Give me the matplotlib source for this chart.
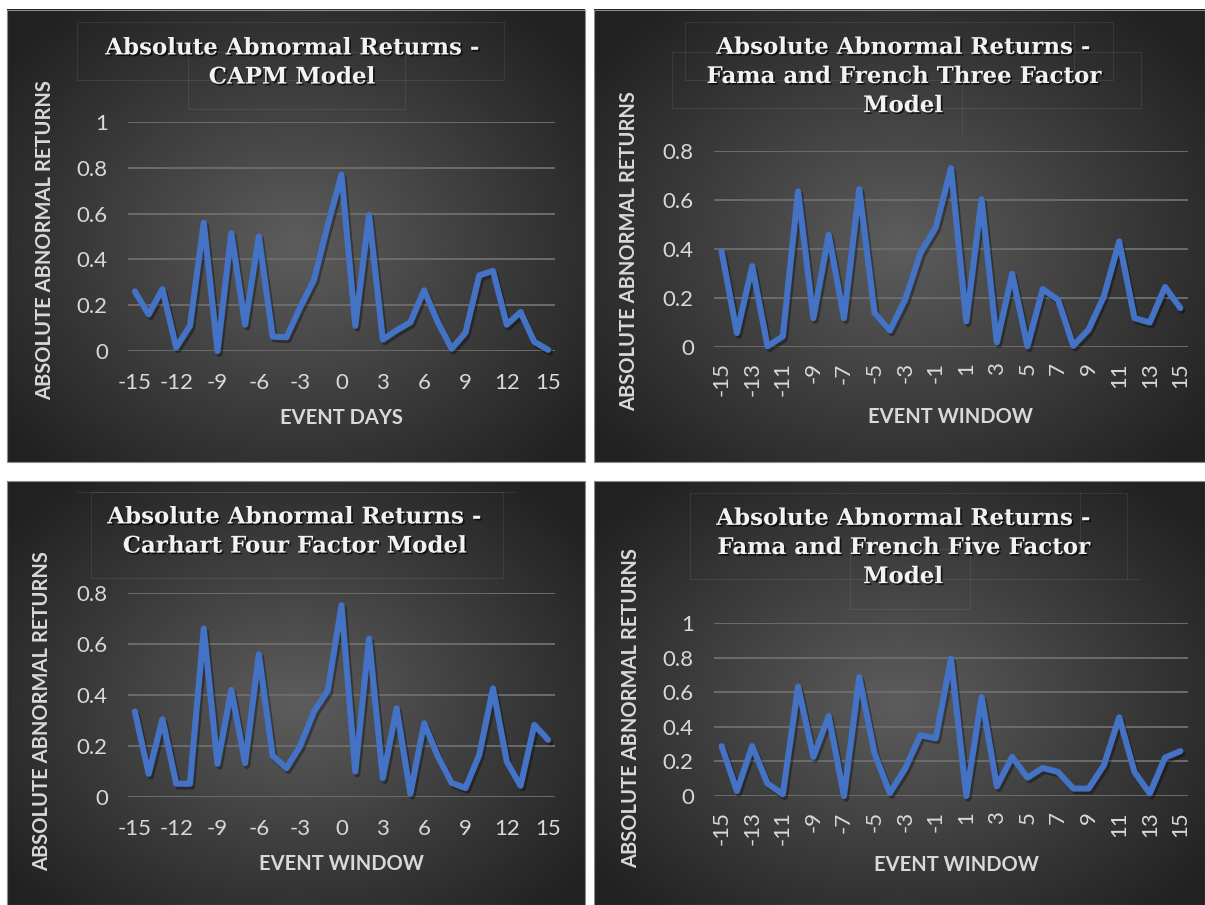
import numpy as np
import matplotlib
matplotlib.use("Agg")
import matplotlib.pyplot as plt
import matplotlib.patheffects as pe
from matplotlib.patches import Rectangle

# ---- data -----------------------------------------------------------------
event_days = list(range(-15, 16))

capm = [0.26, 0.16, 0.27, 0.015, 0.11, 0.56, 0.0, 0.515, 0.115, 0.50, 0.063,
        0.06, 0.19, 0.31, 0.55, 0.77, 0.11, 0.595, 0.05, 0.09, 0.125, 0.265,
        0.125, 0.01, 0.08, 0.33, 0.35, 0.115, 0.17, 0.04, 0.005]

ff3 = [0.39, 0.057, 0.33, 0.003, 0.043, 0.635, 0.118, 0.458, 0.118, 0.644,
       0.139, 0.067, 0.193, 0.383, 0.488, 0.73, 0.105, 0.603, 0.019, 0.299,
       0.003, 0.236, 0.193, 0.005, 0.071, 0.207, 0.431, 0.118, 0.1, 0.245,
       0.159]

carhart = [0.335, 0.091, 0.305, 0.052, 0.052, 0.66, 0.13, 0.42, 0.133, 0.559,
           0.162, 0.113, 0.2, 0.335, 0.417, 0.752, 0.1, 0.621, 0.074, 0.348,
           0.013, 0.289, 0.159, 0.055, 0.035, 0.165, 0.426, 0.139, 0.044,
           0.283, 0.224]

ff5 = [0.288, 0.029, 0.288, 0.072, 0.01, 0.632, 0.226, 0.462, 0.0, 0.687,
       0.246, 0.017, 0.159, 0.352, 0.333, 0.793, 0.0, 0.571, 0.056, 0.226,
       0.106, 0.162, 0.139, 0.043, 0.043, 0.178, 0.455, 0.139, 0.014, 0.222,
       0.259]

titles = [
    "Absolute Abnormal Returns -\nCAPM Model",
    "Absolute Abnormal Returns -\nFama and French Three Factor\nModel",
    "Absolute Abnormal Returns -\nCarhart Four Factor Model",
    "Absolute Abnormal Returns -\nFama and French Five Factor\nModel",
]
x_titles = ["EVENT DAYS", "EVENT WINDOW", "EVENT WINDOW", "EVENT WINDOW"]
y_title = "ABSOLUTE ABNORMAL RETURNS"

# ---- figure layout (pixel geometry) ----------------------------------------
W, H = 1205, 905
fig = plt.figure(figsize=(W / 100, H / 100), dpi=100)
fig.patch.set_facecolor("white")

LINE_COLOR = "#4472C4"
TEXT_LIGHT = "#d9d9d9"
GRID = "#6c6c6c"

panels = [
    dict(box=(7, 10, 585, 462), plot=(128, 122, 555, 351), data=capm,
         ymax=1.0, yticks=[0, 0.2, 0.4, 0.6, 0.8, 1], step=3, rot=0,
         title_xy=(292, 63), xlab_xy=(341, 418), ylab_xy=(45, 240),
         deco=[(77, 22, 504, 80), (188, 52, 405, 109)]),
    dict(box=(594, 10, 1205, 462), plot=(714, 151, 1188, 347), data=ff3,
         ymax=0.8, yticks=[0, 0.2, 0.4, 0.6, 0.8], step=2, rot=90,
         title_xy=(903, 77), xlab_xy=(950, 417), ylab_xy=(629, 251),
         deco=[(685, 22, 1113, 80), (672, 52, 1141, 108),
               (962, 80, 962, 137), (1074, 22, 1074, 80)]),
    dict(box=(7, 481, 585, 905), plot=(128, 593, 555, 797), data=carhart,
         ymax=0.8, yticks=[0, 0.2, 0.4, 0.6, 0.8], step=3, rot=0,
         title_xy=(294, 532), xlab_xy=(341, 864), ylab_xy=(42, 711),
         deco=[(77, 492, 515, 492), (91, 492, 503, 578)]),
    dict(box=(594, 481, 1205, 905), plot=(714, 623, 1188, 796), data=ff5,
         ymax=1.0, yticks=[0, 0.2, 0.4, 0.6, 0.8, 1], step=2, rot=90,
         title_xy=(903, 548), xlab_xy=(956, 865), ylab_xy=(631, 708),
         deco=[(690, 493, 1127, 579), (850, 549, 970, 609),
               (1080, 493, 1080, 549), (1127, 579, 1139, 579)]),
]

# full-figure canvas in pixel coordinates for the panel backgrounds
bg = fig.add_axes([0, 0, 1, 1], zorder=0)
bg.set_xlim(0, W)
bg.set_ylim(H, 0)
bg.axis("off")


def radial_gradient(w, h, c_center=0.365, c_edge=0.13):
    yy, xx = np.mgrid[0:h, 0:w]
    cx, cy = w * 0.5, h * 0.52
    r = np.sqrt(((xx - cx) / (w * 0.64)) ** 2 + ((yy - cy) / (h * 0.68)) ** 2)
    r = np.clip(r, 0, 1)
    v = c_edge + (c_center - c_edge) * (1 - r) ** 1.05
    return np.dstack([v, v, v])


for p in panels:
    x0, y0, x1, y1 = p["box"]
    img = radial_gradient(int(x1 - x0), int(y1 - y0))
    bg.imshow(img, extent=(x0, x1, y1, y0), aspect="auto",
              interpolation="bilinear", zorder=0)
    bg.add_patch(Rectangle((x0, y0), x1 - x0, y1 - y0, fill=False,
                           edgecolor="#8c8c8c", lw=0.8, zorder=1))
    # faint outlines of text boxes behind the chart title
    for (a, b, c, d) in p["deco"]:
        if a == c or b == d:
            bg.plot([a, c], [b, d], color="#ffffff", alpha=0.08, lw=0.8,
                    zorder=1)
        else:
            bg.add_patch(Rectangle((a, b), c - a, d - b, fill=False,
                                   edgecolor="#ffffff", alpha=0.08, lw=0.8,
                                   zorder=1))
bg.set_xlim(0, W)
bg.set_ylim(H, 0)

title_fx = [pe.SimplePatchShadow(offset=(1.2, -1.2), shadow_rgbFace="black",
                                 alpha=0.7), pe.Normal()]
line_fx = [pe.SimpleLineShadow(offset=(1.5, -2.0), shadow_color="black",
                               alpha=0.35), pe.Normal()]

for p, title, xt in zip(panels, titles, x_titles):
    L, T, R, B = p["plot"]
    ax = fig.add_axes([L / W, 1 - B / H, (R - L) / W, (B - T) / H], zorder=2)
    ax.set_facecolor("none")

    ax.plot(event_days, p["data"], color=LINE_COLOR, lw=4.4,
            solid_joinstyle="round", solid_capstyle="round",
            path_effects=line_fx, clip_on=False, zorder=3)

    ax.set_xlim(event_days[0] - 0.5, event_days[-1] + 0.5)
    ax.set_ylim(0, p["ymax"])
    ax.set_yticks(p["yticks"])
    ax.set_yticklabels([f"{v:g}" for v in p["yticks"]])
    shown = event_days[::p["step"]]
    ax.set_xticks(shown)
    ax.set_xticklabels([str(v) for v in shown])
    ax.grid(axis="y", color=GRID, lw=1.4)
    ax.set_axisbelow(True)
    for s in ax.spines.values():
        s.set_visible(False)

    ax.tick_params(axis="both", length=0, colors=TEXT_LIGHT)
    ax.tick_params(axis="y", pad=14.5)
    if p["rot"]:
        ax.tick_params(axis="x", pad=11, labelrotation=90)
    else:
        ax.tick_params(axis="x", pad=15.5)
    for lab in ax.get_xticklabels() + ax.get_yticklabels():
        lab.set_fontfamily("Lato")
        lab.set_fontsize(16)
        lab.set_color(TEXT_LIGHT)

    # axis titles
    ax.set_xlabel(xt, fontfamily="Lato", fontweight="bold", fontsize=14.5,
                  color=TEXT_LIGHT)
    ax.set_ylabel(y_title, fontfamily="Lato", fontweight="bold",
                  fontsize=14.5, color=TEXT_LIGHT)
    lx, ly = p["xlab_xy"]
    ax.xaxis.set_label_coords((lx - L) / (R - L), (B - ly) / (B - T))
    ax.xaxis.label.set_va("center")
    yx, yy = p["ylab_xy"]
    ax.yaxis.set_label_coords((yx - L) / (R - L), (B - yy) / (B - T))
    ax.yaxis.label.set_va("center")

    # chart title
    tx, ty = p["title_xy"]
    ax.text((tx - L) / (R - L), (B - ty) / (B - T), title,
            transform=ax.transAxes, ha="center", va="center",
            multialignment="center", fontfamily="DejaVu Serif",
            fontweight="bold", fontsize=16.5, color="#f2f2f2",
            linespacing=1.42, path_effects=title_fx)

fig.savefig("out.png", dpi=100, facecolor="white")
